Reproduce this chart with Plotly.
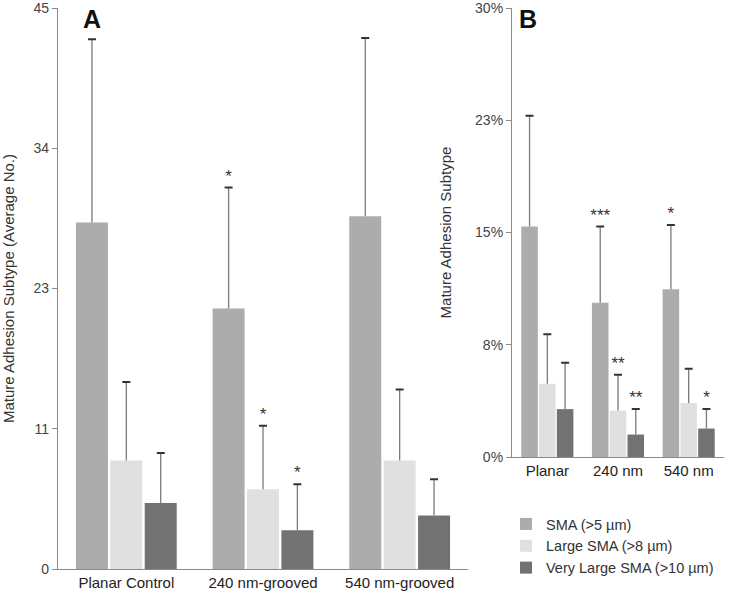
import plotly.graph_objects as go

categories_a = ["Planar Control", "240 nm-grooved", "540 nm-grooved"]
categories_b = ["Planar", "240 nm", "540 nm"]
series_names = ["SMA (>5 µm)", "Large SMA (>8 µm)", "Very Large SMA (>10 µm)"]
colors = ["#acacac", "#e0e0e0", "#727272"]

# Panel A: average number
a_sma = [27.8, 20.9, 28.3]
a_sma_err = [14.7, 9.7, 14.3]
a_large = [8.7, 6.4, 8.7]
a_large_err = [6.3, 5.1, 5.7]
a_vlarge = [5.3, 3.1, 4.3]
a_vlarge_err = [4.0, 3.7, 2.9]
a_sig = [["", "*", ""], ["", "*", ""], ["", "*", ""]]

# Panel B: percent
b_sma = [15.4, 10.3, 11.2]
b_sma_err = [7.4, 5.1, 4.3]
b_large = [4.9, 3.1, 3.6]
b_large_err = [3.3, 2.4, 2.3]
b_vlarge = [3.2, 1.5, 1.9]
b_vlarge_err = [3.1, 1.7, 1.3]
b_sig = [["", "***", "*"], ["", "**", ""], ["", "**", "*"]]

a_tickvals = [0, 11.25, 22.5, 33.75, 45]
a_ticktext = ["0", "11", "23", "34", "45"]
b_tickvals = [0, 7.5, 15, 22.5, 30]
b_ticktext = ["0%", "8%", "15%", "23%", "30%"]

FONT = "Liberation Sans, Arial, sans-serif"
fig = go.Figure()

def add_panel(cats, vals, errs, sigs, xa, ya, legend):
    for i in range(3):
        fig.add_trace(go.Bar(
            x=cats, y=vals[i], name=series_names[i], marker_color=colors[i],
            marker_line_width=0, showlegend=legend, xaxis=xa, yaxis=ya,
            offsetgroup=str(i),
            error_y=dict(type="data", symmetric=False, array=errs[i],
                         arrayminus=[0] * 3, width=0, thickness=1.3, color="#7a7a7a"),
            hoverinfo="skip"))
    for i in range(3):
        tops = [v + e for v, e in zip(vals[i], errs[i])]
        fig.add_trace(go.Scatter(
            x=cats, y=tops, mode="markers+text", text=sigs[i],
            textposition="top center", textfont=dict(size=17, color="#333", family=FONT),
            marker=dict(size=1, color="rgba(0,0,0,0)"),
            error_y=dict(type="data", array=[0] * 3, width=4, thickness=2, color="#333"),
            showlegend=False, xaxis=xa, yaxis=ya, offsetgroup=str(i), hoverinfo="skip"))

add_panel(categories_a, [a_sma, a_large, a_vlarge], [a_sma_err, a_large_err, a_vlarge_err],
          a_sig, "x", "y", True)
add_panel(categories_b, [b_sma, b_large, b_vlarge], [b_sma_err, b_large_err, b_vlarge_err],
          b_sig, "x2", "y2", False)

W, H = 736, 599
axis_common = dict(showline=True, linecolor="#8a8a8a", linewidth=1.2, showgrid=False,
                   zeroline=False, automargin=False)

fig.update_layout(
    width=W, height=H, margin=dict(l=0, r=0, t=0, b=0),
    paper_bgcolor="white", plot_bgcolor="white",
    barmode="group", bargap=0.245, bargroupgap=0.07,
    scattermode="group", scattergap=0.245,
    font=dict(family=FONT, color="#333"),
    xaxis=dict(domain=[58 / W, 468 / W], anchor="y", ticks="",
               tickfont=dict(size=15, color="#222"), **axis_common),
    yaxis=dict(domain=[1 - 569 / H, 1 - 8 / H], anchor="x", range=[0, 45],
               tickvals=a_tickvals, ticktext=a_ticktext, ticks="outside", ticklen=5,
               tickcolor="#8a8a8a", tickfont=dict(size=14, color="#444"),
               ticklabeloverflow="allow",
               title=dict(text="Mature Adhesion Subtype (Average No.)", font=dict(size=15, color="#333"),
                          standoff=15), **axis_common),
    xaxis2=dict(domain=[512 / W, 724 / W], anchor="y2", ticks="",
                tickfont=dict(size=15, color="#222"), **axis_common),
    yaxis2=dict(domain=[1 - 457 / H, 1 - 8 / H], anchor="x2", range=[0, 30],
                tickvals=b_tickvals, ticktext=b_ticktext, ticks="outside", ticklen=5,
                tickcolor="#8a8a8a", tickfont=dict(size=14, color="#444"),
                ticklabeloverflow="allow",
                title=dict(text="Mature Adhesion Subtype", font=dict(size=15, color="#333"),
                           standoff=19), **axis_common),
    legend=dict(x=506 / W, y=1 - 508 / H, xanchor="left", yanchor="top",
                font=dict(size=14.5, color="#333"), tracegroupgap=0, itemwidth=30,
                bgcolor="rgba(0,0,0,0)"),
    annotations=[
        dict(text="<b>A</b>", x=92 / W, y=1 - 19 / H, xref="paper", yref="paper",
             xanchor="center", yanchor="middle",
             showarrow=False, font=dict(size=25, color="#111")),
        dict(text="<b>B</b>", x=528 / W, y=1 - 19 / H, xref="paper", yref="paper",
             xanchor="center", yanchor="middle",
             showarrow=False, font=dict(size=25, color="#111")),
    ],
)

fig.write_html("out.html", config={"displayModeBar": False},
               post_script="document.body.style.margin='0';")
